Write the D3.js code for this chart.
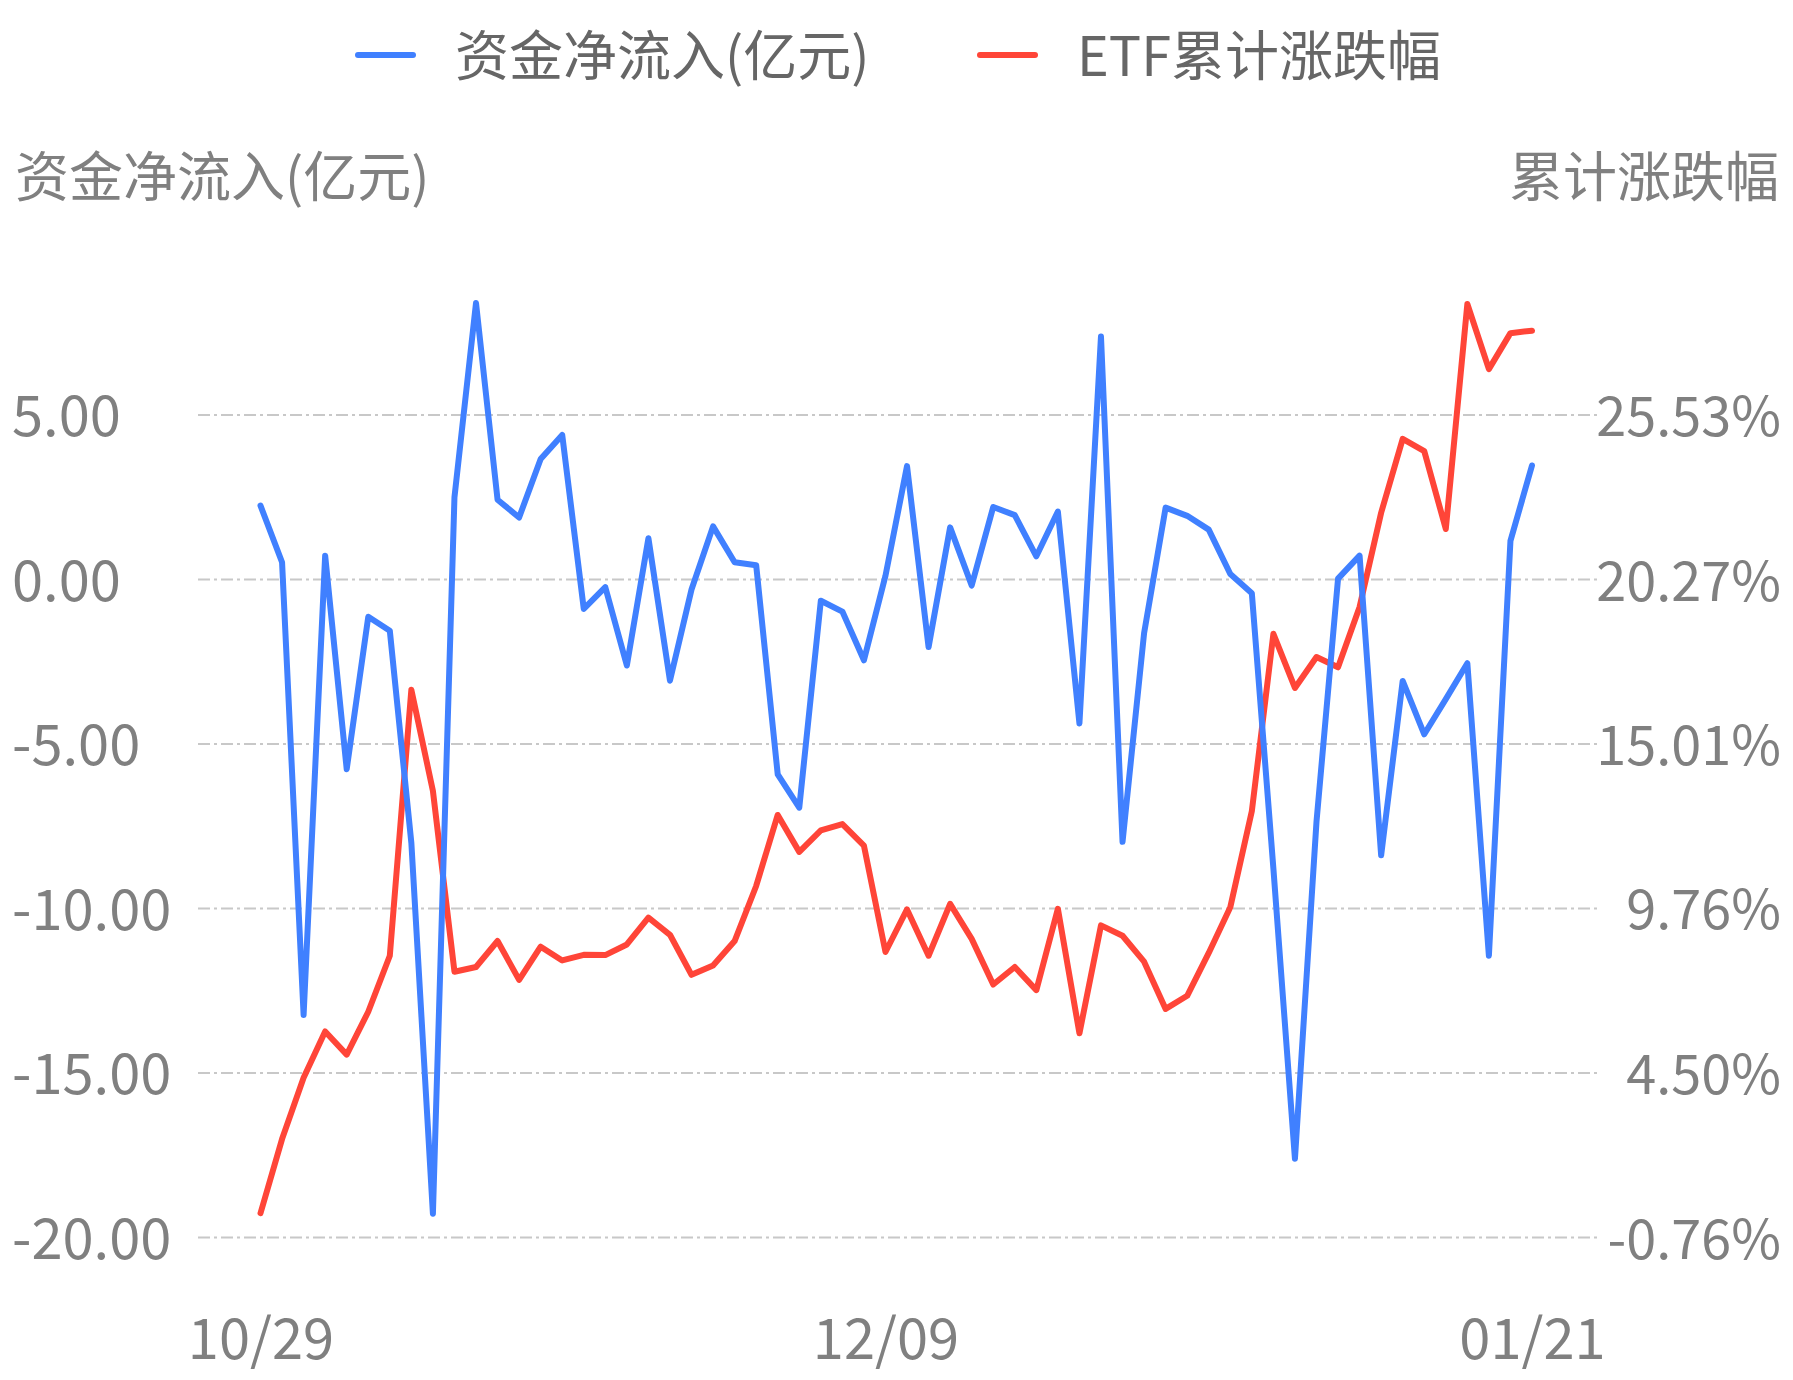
<!DOCTYPE html>
<html>
<head>
<meta charset="utf-8">
<script src="https://cdn.jsdelivr.net/npm/d3@7"></script>
<style>
  body { margin: 0; background: #fff; }
  text { font-family: "Noto Sans CJK SC", "Noto Sans", sans-serif; fill: #808080; }
</style>
</head>
<body>
<div id="chart"></div>
<script>
// trading days, 2024-10-29 .. 2025-01-21
var dates = [
  "10/29","10/30","10/31",
  "11/01","11/04","11/05","11/06","11/07","11/08","11/11","11/12","11/13","11/14","11/15",
  "11/18","11/19","11/20","11/21","11/22","11/25","11/26","11/27","11/28","11/29",
  "12/02","12/03","12/04","12/05","12/06","12/09","12/10","12/11","12/12","12/13",
  "12/16","12/17","12/18","12/19","12/20","12/23","12/24","12/25","12/26","12/27",
  "12/30","12/31","01/02","01/03","01/06","01/07","01/08","01/09","01/10",
  "01/13","01/14","01/15","01/16","01/17","01/20","01/21"
];

// 资金净流入(亿元)
var netInflow = [
  2.23, 0.51, -13.25, 0.71, -5.78, -1.15, -1.57, -8.02, -19.29, 2.48,
  8.39, 2.41, 1.87, 3.65, 4.38, -0.91, -0.25, -2.63, 1.24, -3.09,
  -0.32, 1.60, 0.51, 0.42, -5.94, -6.95, -0.66, -0.99, -2.47, 0.10,
  3.43, -2.07, 1.57, -0.20, 2.19, 1.94, 0.69, 2.05, -4.39, 7.37,
  -7.99, -1.65, 2.17, 1.92, 1.50, 0.15, -0.43, -8.8, -17.62, -7.38,
  0.01, 0.71, -8.40, -3.10, -4.72, -3.65, -2.56, -11.45, 1.16, 3.45
];

// ETF累计涨跌幅 (%)
var etfCum = [
  0.00, 2.37, 4.33, 5.81, 5.07, 6.44, 8.23, 16.73, 13.50, 7.72,
  7.87, 8.70, 7.46, 8.52, 8.08, 8.26, 8.25, 8.59, 9.45, 8.90,
  7.62, 7.92, 8.70, 10.46, 12.73, 11.55, 12.24, 12.44, 11.75, 8.35,
  9.71, 8.23, 9.89, 8.77, 7.31, 7.87, 7.13, 9.73, 5.75, 9.20,
  8.87, 8.04, 6.53, 6.95, 8.32, 9.78, 12.85, 18.52, 16.79, 17.78,
  17.45, 19.38, 22.39, 24.75, 24.36, 21.87, 29.06, 26.98, 28.13, 28.21
];

var leftTicks = [-20, -15, -10, -5, 0, 5];
var rightTicks = [-0.76, 4.50, 9.76, 15.01, 20.27, 25.53];
var xTicks = ["10/29", "12/09", "01/21"];

var svgWidth = 1793, svgHeight = 1380;
var gridLeft = 198, gridRight = 1597;
var yTop = 414.5, yBottom = 1237;
var numSize = 56;

// plain hyphen instead of the unicode minus d3.format gives
function fmt2(v) {
  return d3.format(".2f")(v).replace("\u2212", "-");
}

var svg = d3.select("#chart").append("svg")
  .attr("width", svgWidth)
  .attr("height", svgHeight);

svg.append("rect").attr("width", svgWidth).attr("height", svgHeight).attr("fill", "#fff");

var xScale = d3.scalePoint()
  .domain(dates)
  .range([260.5, 1532]);

var yLeft = d3.scaleLinear()
  .domain([-20, 5])
  .range([yBottom, yTop]);

var yRight = d3.scaleLinear()
  .domain([rightTicks[0], rightTicks[rightTicks.length - 1]])
  .range([yBottom, yTop]);

// left axis with grid lines
var leftAxis = svg.append("g")
  .attr("transform", `translate(${gridLeft},0)`)
  .call(d3.axisLeft(yLeft)
    .tickValues(leftTicks)
    .tickFormat(fmt2)
    .tickSize(-(gridRight - gridLeft)));

leftAxis.select(".domain").remove();
leftAxis.selectAll("line")
  .attr("stroke", "#c8c8c8")
  .attr("stroke-width", 2)
  .attr("stroke-dasharray", "12,4,3,4");
leftAxis.selectAll("text")
  .attr("x", 12 - gridLeft)
  .attr("dy", null)
  .attr("y", 21)
  .attr("text-anchor", "start")
  .attr("font-size", numSize)
  .style("font-family", '"Noto Sans CJK SC", sans-serif');

// right axis
var rightAxis = svg.append("g")
  .attr("transform", `translate(${gridRight},0)`)
  .call(d3.axisRight(yRight)
    .tickValues(rightTicks)
    .tickFormat(d => fmt2(d) + "%")
    .tickSize(0));

rightAxis.select(".domain").remove();
rightAxis.selectAll("text")
  .attr("x", 1781 - gridRight)
  .attr("dy", null)
  .attr("y", 21)
  .attr("text-anchor", "end")
  .attr("font-size", 54)
  .style("font-family", '"Noto Sans CJK SC", sans-serif');

// bottom axis
var bottomAxis = svg.append("g")
  .attr("transform", "translate(0,1359)")
  .call(d3.axisBottom(xScale).tickValues(xTicks).tickSize(0));

bottomAxis.select(".domain").remove();
bottomAxis.selectAll("text")
  .attr("y", 0)
  .attr("dy", null)
  .attr("font-size", numSize)
  .style("font-family", '"Noto Sans CJK SC", sans-serif');

// axis titles
svg.append("text")
  .attr("x", 15)
  .attr("y", 197)
  .attr("font-size", 54)
  .text("资金净流入(亿元)");

svg.append("text")
  .attr("x", 1779)
  .attr("y", 197)
  .attr("text-anchor", "end")
  .attr("font-size", 54)
  .text("累计涨跌幅");

// lines
var blueLine = d3.line()
  .x((d, i) => xScale(dates[i]))
  .y(d => yLeft(d));

var redLine = d3.line()
  .x((d, i) => xScale(dates[i]))
  .y(d => yRight(d));

svg.append("path")
  .datum(etfCum)
  .attr("d", redLine)
  .attr("fill", "none")
  .attr("stroke", "#ff4538")
  .attr("stroke-width", 6)
  .attr("stroke-linejoin", "round")
  .attr("stroke-linecap", "round");

svg.append("path")
  .datum(netInflow)
  .attr("d", blueLine)
  .attr("fill", "none")
  .attr("stroke", "#4080ff")
  .attr("stroke-width", 6)
  .attr("stroke-linejoin", "round")
  .attr("stroke-linecap", "round");

// legend
var legend = [
  { name: "资金净流入(亿元)", color: "#4080ff", x: 358, tx: 455 },
  { name: "ETF累计涨跌幅", color: "#ff4538", x: 980, tx: 1077 }
];

var lg = svg.append("g").selectAll("g")
  .data(legend)
  .enter()
  .append("g");

lg.append("line")
  .attr("x1", d => d.x)
  .attr("x2", d => d.x + 55)
  .attr("y1", 55)
  .attr("y2", 55)
  .attr("stroke", d => d.color)
  .attr("stroke-width", 6)
  .attr("stroke-linecap", "round");

lg.append("text")
  .attr("x", d => d.tx)
  .attr("y", 76)
  .attr("font-size", 54)
  .style("fill", "#666")
  .text(d => d.name);
</script>
</body>
</html>
